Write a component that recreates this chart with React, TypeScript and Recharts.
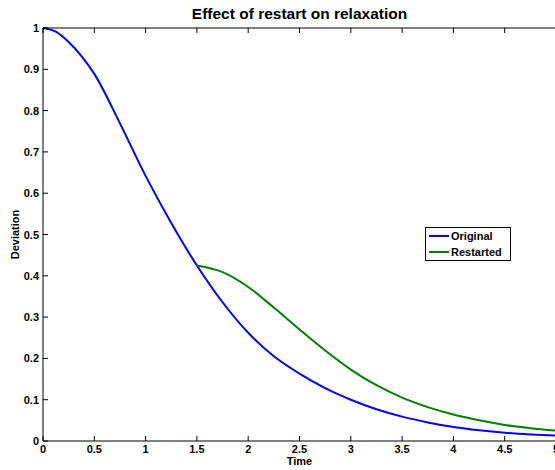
import React from "react";
import { LineChart, Line, XAxis, YAxis, Legend, Label } from "recharts";

const FONT = '"Liberation Sans", Arial, Helvetica, sans-serif';

// values
const times = [0, 0.125, 0.25, 0.375, 0.5, 0.75, 1, 1.25, 1.5, 1.75, 2, 2.25, 2.5, 2.75, 3, 3.25, 3.5, 3.75, 4, 4.25, 4.5, 4.75, 5];
const original = [1, 0.991, 0.966, 0.932, 0.889, 0.769, 0.642, 0.528, 0.425, 0.336, 0.262, 0.205, 0.163, 0.128, 0.1, 0.077, 0.059, 0.045, 0.034, 0.026, 0.02, 0.016, 0.013];
const restarted = [null, null, null, null, null, null, null, null, 0.425, 0.409, 0.373, 0.323, 0.27, 0.219, 0.173, 0.135, 0.105, 0.082, 0.064, 0.05, 0.039, 0.031, 0.025];

const xTicks = [0, 0.5, 1, 1.5, 2, 2.5, 3, 3.5, 4, 4.5, 5];
const yTicks = [0, 0.1, 0.2, 0.3, 0.4, 0.5, 0.6, 0.7, 0.8, 0.9, 1];

const series = [
  { key: "original", name: "Original", color: "#0000ff" },
  { key: "restarted", name: "Restarted", color: "#008000" },
];

const data = times.map((t, i) => ({ t, original: original[i], restarted: restarted[i] }));

const txt = { fontFamily: FONT, fontWeight: "bold" as const, fill: "#000" };

const BottomTick = (p: any) => (
  <g>
    <line x1={p.x} y1={p.y} x2={p.x} y2={p.y - 5} stroke="#000" />
    <text x={p.x} y={p.y + 12} textAnchor="middle" fontSize={11} {...txt}>{p.payload.value}</text>
  </g>
);
const TopTick = (p: any) => <line x1={p.x} y1={p.y} x2={p.x} y2={p.y + 5} stroke="#000" />;
const LeftTick = (p: any) => (
  <g>
    <line x1={p.x} y1={p.y} x2={p.x + 5} y2={p.y} stroke="#000" />
    <text x={p.x - 4} y={p.y + 4} textAnchor="end" fontSize={11} {...txt}>{p.payload.value}</text>
  </g>
);
const RightTick = (p: any) => <line x1={p.x} y1={p.y} x2={p.x - 5} y2={p.y} stroke="#000" />;

const LegendBox = () => (
  <div style={{ boxSizing: "border-box", width: 86, height: 34, border: "1px solid #000", background: "#fff",
    fontFamily: FONT, fontSize: 11, fontWeight: "bold", paddingLeft: 3 }}>
    {series.map(s => (
      <div key={s.key} style={{ display: "flex", alignItems: "center", height: 16 }}>
        <svg width={20} height={16}><line x1={0} y1={8} x2={20} y2={8} stroke={s.color} strokeWidth={2} /></svg>
        <span style={{ marginLeft: 2, lineHeight: "16px" }}>{s.name}</span>
      </div>
    ))}
  </div>
);

export default function App() {
  return (
    <div style={{ position: "absolute", left: 0, top: 0, width: 555, height: 470, overflow: "hidden", background: "#fff" }}>
      <LineChart width={560} height={470} data={data} margin={{ top: 27, right: 3, left: 42, bottom: 28 }}>
        <XAxis dataKey="t" type="number" domain={[0, 5]} ticks={xTicks} height={1} tickSize={0} tickMargin={0}
          tickLine={false} axisLine={{ stroke: "#000" }} tick={BottomTick} interval={0}>
          <Label content={(props: any) => {
            const vb = props.viewBox;
            return <text x={vb.x + vb.width / 2} y={465} textAnchor="middle" fontSize={11} {...txt}>Time</text>;
          }} />
        </XAxis>
        <XAxis xAxisId="top" orientation="top" dataKey="t" type="number" domain={[0, 5]} ticks={xTicks} height={1}
          tickSize={0} tickMargin={0} tickLine={false} axisLine={{ stroke: "#000" }} tick={TopTick} interval={0}>
          <Label content={(props: any) => {
            const vb = props.viewBox;
            return <text x={vb.x + vb.width / 2} y={18.5} textAnchor="middle" fontSize={15.5} {...txt}>Effect of restart on relaxation</text>;
          }} />
        </XAxis>
        <YAxis type="number" domain={[0, 1]} ticks={yTicks} width={1} tickSize={0} tickMargin={0} tickLine={false}
          axisLine={{ stroke: "#000" }} tick={LeftTick} interval={0}>
          <Label content={(props: any) => {
            const vb = props.viewBox;
            const cy = vb.y + vb.height / 2;
            return <text x={18.5} y={cy} transform={`rotate(-90 18.5 ${cy})`} textAnchor="middle" fontSize={11} {...txt}>Deviation</text>;
          }} />
        </YAxis>
        <YAxis yAxisId="right" orientation="right" type="number" domain={[0, 1]} ticks={yTicks} width={1} tickSize={0}
          tickMargin={0} tickLine={false} axisLine={{ stroke: "#000" }} tick={RightTick} interval={0} />
        <Legend layout="vertical" align="center" verticalAlign="middle"
          wrapperStyle={{ left: 425, top: 227, width: 86, height: 34 }} content={() => <LegendBox />} />
        {series.map(s => (
          <Line key={s.key} dataKey={s.key} name={s.name} type="monotone" stroke={s.color} strokeWidth={2}
            dot={false} activeDot={false} isAnimationActive={false} />
        ))}
      </LineChart>
    </div>
  );
}
